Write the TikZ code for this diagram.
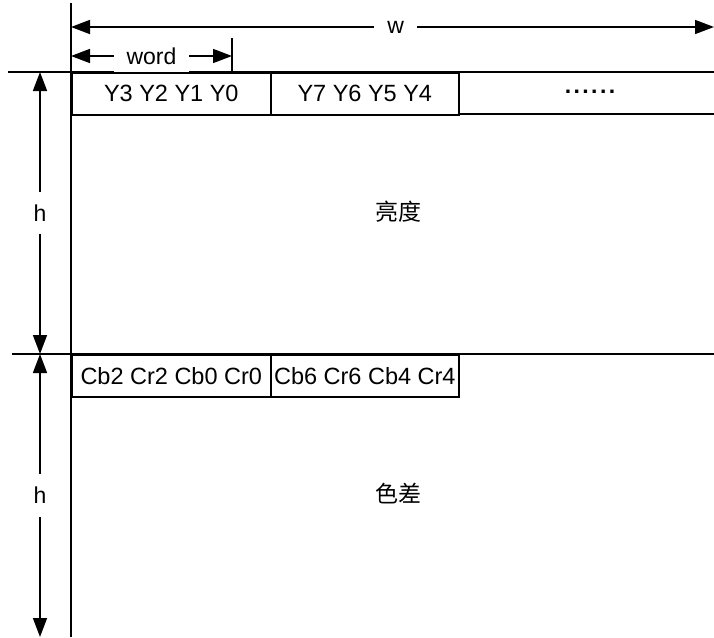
\documentclass[tikz,border=0pt]{standalone}
\usepackage{fontspec}
\setmainfont{Liberation Sans}
\newfontfamily\cjk{Noto Sans CJK SC}
\usetikzlibrary{arrows.meta}
\newcommand{\mydots}{\textbf{.\kern2.4pt.\kern2.4pt.\kern2.4pt.\kern2.4pt.\kern2.4pt.}}
\begin{document}
\begin{tikzpicture}[x=1pt,y=-1pt,line width=1.6pt,
  dim/.style={{Triangle[length=19pt,width=14pt]}-{Triangle[length=19pt,width=14pt]}},
  lab/.style={fill=white,font=\fontsize{23}{26}\selectfont,inner sep=13pt},
  cell/.style={draw,line width=1.6pt,font=\fontsize{23.5}{26}\selectfont,minimum height=42pt,inner sep=0pt,anchor=north west},
  big/.style={font=\cjk\fontsize{23}{26}\selectfont}]
\useasboundingbox (0,0) rectangle (714,637);
% frame lines
\coordinate (vtop) at (71,3);
\coordinate (vbot) at (71,637);
\draw (vtop) -- (vbot);
\coordinate (h1l) at (8,72);
\coordinate (h1r) at (714,72);
\draw (h1l) -- (h1r);
\coordinate (h2l) at (12,354);
\coordinate (h2r) at (714,354);
\draw (h2l) -- (h2r);
% w dimension
\coordinate (wl) at (71,27);
\coordinate (wr) at (714,27);
\draw[dim] (wl) -- node[lab,pos=0.505] (w) {w} (wr);
% word dimension
\coordinate (wdl) at (71,56);
\coordinate (wdr) at (232,56);
\coordinate (tickt) at (232,38);
\coordinate (tickb) at (232,72);
\draw (tickt) -- (tickb);
\draw[dim] (wdl) -- node[lab] (word) {word} (wdr);
% h dimensions
\coordinate (h1t) at (40,72);
\coordinate (h1b) at (40,354);
\draw[dim] (h1t) -- node[lab] (hA) {h} (h1b);
\coordinate (h2t) at (40,354);
\coordinate (h2b) at (40,637);
\draw[dim] (h2t) -- node[lab] (hB) {h} (h2b);
% row 1
\node[cell,minimum width=199pt] (y0) at (71,72) {Y3 Y2 Y1 Y0};
\node[cell,minimum width=188pt] (y4) at (270,72) {Y7 Y6 Y5 Y4};
\coordinate (r1a) at (458,114);
\coordinate (r1b) at (714,114);
\draw (r1a) -- (r1b);
\node[font=\fontsize{23}{26}\selectfont,inner sep=0pt] (dots) at (590,92) {\mydots};
% row 2
\node[cell,minimum width=199pt] (c0) at (71,354) {Cb2 Cr2 Cb0 Cr0};
\node[cell,minimum width=188pt] (c4) at (270,354) {Cb6 Cr6 Cb4 Cr4};
% labels
\node[big] (luma) at (398,212) {亮度};
\node[big] (chroma) at (398,494) {色差};
\end{tikzpicture}
\end{document}
